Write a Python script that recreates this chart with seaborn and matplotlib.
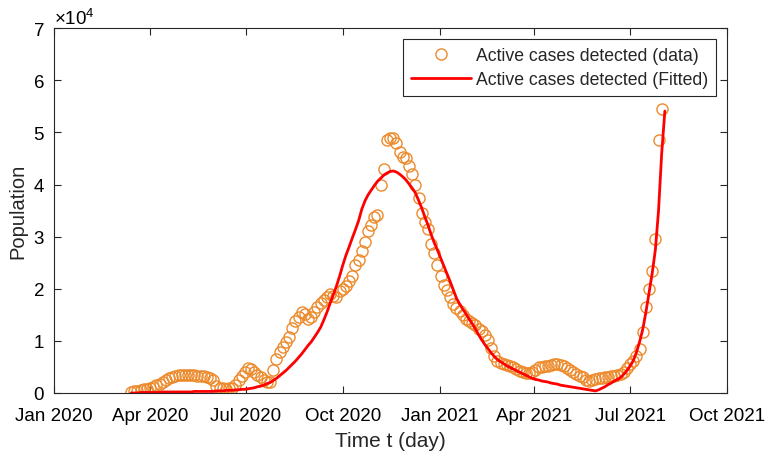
import numpy as np
import pandas as pd
import matplotlib
matplotlib.use("Agg")
import matplotlib.pyplot as plt
import matplotlib.dates as mdates
import seaborn as sns

# ---------------- data (values in units of 10^4 people) ----------------
start_date = "2020-03-14"
step = "3D"

active_data = [
    0.02, 0.03, 0.04, 0.05, 0.07, 0.08, 0.10, 0.12, 0.15, 0.18,
    0.21, 0.24, 0.28, 0.31, 0.32, 0.34, 0.35, 0.35, 0.34, 0.35,
    0.34, 0.33, 0.33, 0.32, 0.30, 0.28, 0.24, 0.14, 0.10, 0.09,
    0.08, 0.09, 0.10, 0.15, 0.25, 0.32, 0.40, 0.47, 0.46, 0.40,
    0.35, 0.30, 0.25, 0.21, 0.22, 0.45, 0.66, 0.78, 0.88, 0.98,
    1.07, 1.25, 1.38, 1.45, 1.55, 1.52, 1.42, 1.45, 1.55, 1.65,
    1.72, 1.78, 1.85, 1.90, 1.86, 1.84, 1.95, 2.00, 2.05, 2.15,
    2.25, 2.45, 2.55, 2.72, 2.90, 3.10, 3.22, 3.38, 3.42, 4.00,
    4.30, 4.85, 4.90, 4.90, 4.80, 4.62, 4.53, 4.50, 4.35, 4.20,
    4.00, 3.75, 3.45, 3.28, 3.15, 2.85, 2.68, 2.45, 2.25, 2.08,
    1.98, 1.84, 1.71, 1.64, 1.58, 1.50, 1.42, 1.39, 1.35, 1.30,
    1.23, 1.18, 1.12, 1.02, 0.86, 0.71, 0.62, 0.58, 0.55, 0.53,
    0.52, 0.49, 0.46, 0.43, 0.40, 0.39, 0.38, 0.41, 0.45, 0.49,
    0.50, 0.51, 0.52, 0.53, 0.55, 0.56, 0.54, 0.51, 0.48, 0.45,
    0.40, 0.36, 0.33, 0.30, 0.25, 0.23, 0.24, 0.26, 0.28, 0.29,
    0.30, 0.31, 0.32, 0.33, 0.35, 0.37, 0.40, 0.48, 0.55, 0.62,
    0.71, 0.84, 1.17, 1.65, 2.00, 2.34, 2.96, 4.86, 5.45,
]

active_fitted = [
    0.00, 0.00, 0.00, 0.01, 0.01, 0.01, 0.01, 0.01, 0.01, 0.01,
    0.02, 0.02, 0.02, 0.02, 0.02, 0.02, 0.02, 0.02, 0.02, 0.02,
    0.03, 0.03, 0.03, 0.03, 0.03, 0.03, 0.03, 0.04, 0.04, 0.04,
    0.05, 0.05, 0.05, 0.06, 0.06, 0.07, 0.07, 0.08, 0.09, 0.10,
    0.12, 0.13, 0.15, 0.18, 0.20, 0.24, 0.28, 0.33, 0.38, 0.43,
    0.49, 0.55, 0.61, 0.68, 0.75, 0.83, 0.91, 0.98, 1.07, 1.16,
    1.26, 1.40, 1.55, 1.72, 1.88, 2.05, 2.24, 2.45, 2.64, 2.80,
    2.97, 3.13, 3.30, 3.52, 3.68, 3.80, 3.89, 3.98, 4.06, 4.12,
    4.18, 4.22, 4.25, 4.26, 4.24, 4.20, 4.15, 4.09, 4.01, 3.93,
    3.84, 3.70, 3.55, 3.38, 3.22, 3.04, 2.88, 2.74, 2.59, 2.44,
    2.29, 2.14, 1.98, 1.82, 1.71, 1.61, 1.52, 1.42, 1.33, 1.23,
    1.12, 1.02, 0.93, 0.85, 0.77, 0.70, 0.64, 0.60, 0.56, 0.52,
    0.49, 0.46, 0.43, 0.40, 0.37, 0.34, 0.31, 0.28, 0.26, 0.25,
    0.23, 0.22, 0.21, 0.19, 0.18, 0.17, 0.15, 0.14, 0.13, 0.12,
    0.11, 0.10, 0.09, 0.08, 0.07, 0.06, 0.05, 0.04, 0.06, 0.09,
    0.12, 0.16, 0.19, 0.23, 0.26, 0.30, 0.36, 0.43, 0.52, 0.62,
    0.78, 0.98, 1.22, 1.55, 1.93, 2.30, 2.75, 3.50, 4.60, 5.41,
]

scale = 1e4
x_ticks = ["2020-01-01", "2020-04-01", "2020-07-01", "2020-10-01",
           "2021-01-01", "2021-04-01", "2021-07-01", "2021-10-01"]
y_ticks = [0, 1, 2, 3, 4, 5, 6, 7]

label_data = "Active cases detected (data)"
label_fit = "Active cases detected (Fitted)"

# ---------------- build frames ----------------
df_data = pd.DataFrame({
    "date": pd.date_range(start_date, periods=len(active_data), freq=step),
    "value": np.array(active_data) * scale,
})
df_fit = pd.DataFrame({
    "date": pd.date_range(start_date, periods=len(active_fitted), freq=step),
    "value": np.array(active_fitted) * scale,
})

# ---------------- style ----------------
sns.set_theme(style="ticks")
plt.rcParams["font.family"] = ["Liberation Sans", "DejaVu Sans"]
plt.rcParams["mathtext.fontset"] = "custom"
plt.rcParams["mathtext.rm"] = "Liberation Sans"
plt.rcParams["mathtext.it"] = "Liberation Sans:italic"

ORANGE = "#EC8A2B"
RED = "#FF0000"
AXC = "#262626"

fig = plt.figure(figsize=(7.67, 4.56), dpi=100)
ax = fig.add_axes([0.0708, 0.136, 0.877, 0.80])

sns.lineplot(data=df_data, x="date", y="value", ax=ax, linestyle="none",
             marker="o", markersize=8, markerfacecolor="none",
             markeredgecolor=ORANGE, markeredgewidth=1.0, color=ORANGE,
             label=label_data, estimator=None)
sns.lineplot(data=df_fit, x="date", y="value", ax=ax, color=RED,
             linewidth=2.0, label=label_fit, estimator=None)

# axes limits and ticks
ax.set_xlim(pd.Timestamp(x_ticks[0]), pd.Timestamp(x_ticks[-1]))
ax.set_ylim(0, y_ticks[-1] * scale)
ax.set_xticks([pd.Timestamp(t) for t in x_ticks])
ax.xaxis.set_major_formatter(mdates.DateFormatter("%b %Y"))
ax.set_yticks([v * scale for v in y_ticks])
ax.ticklabel_format(axis="y", style="sci", scilimits=(4, 4), useMathText=True)
ax.yaxis.get_offset_text().set_fontsize(13.5)

ax.tick_params(direction="in", length=5, width=0.8, color=AXC,
               top=True, right=True, labelsize=13.5, labelcolor="black")
ax.tick_params(axis="x", pad=10)
ax.tick_params(axis="y", pad=7)
for sp in ax.spines.values():
    sp.set_visible(True)
    sp.set_color(AXC)
    sp.set_linewidth(0.8)

ax.set_xlabel("Time t (day)", fontsize=15, labelpad=5)
ax.set_ylabel("Population", fontsize=14.5, labelpad=4)

leg = ax.legend(loc="upper right", fontsize=12.7, frameon=True, fancybox=False,
                edgecolor=AXC, framealpha=1, handlelength=3.4,
                borderaxespad=0.6, borderpad=0.45, labelspacing=0.42,
                handletextpad=0.3)
leg.get_frame().set_linewidth(0.8)

fig.savefig("out.png", dpi=100)
